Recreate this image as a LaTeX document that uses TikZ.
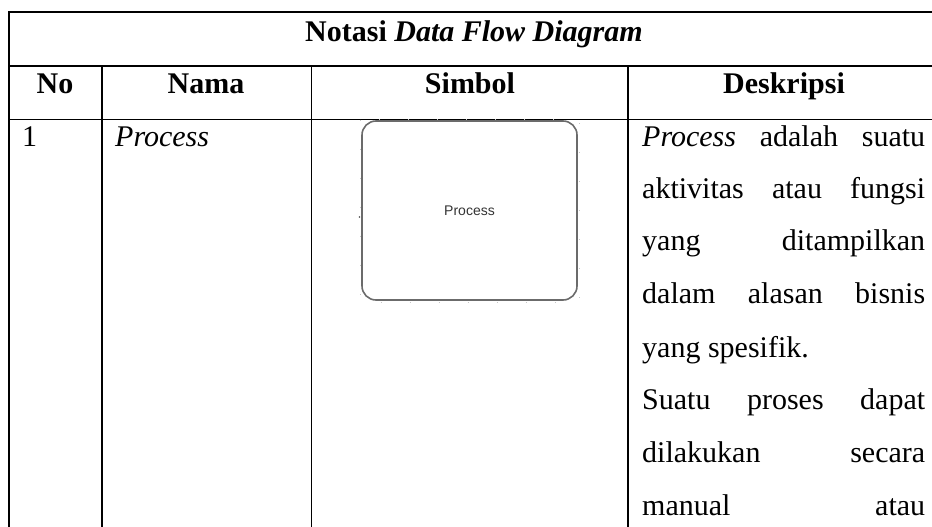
\documentclass[tikz,border=0pt]{standalone}
\usepackage{fontspec}
\setmainfont{Liberation Serif}
\newfontfamily\shapefont{Liberation Sans}
\begin{document}
\begin{tikzpicture}[x=1pt, y=-1pt,
  thickrule/.style={line width=2pt, line cap=rect},
  midrule/.style={line width=1.7pt, line cap=rect},
  thinrule/.style={line width=1pt},
  celltext/.style={inner sep=0pt, font=\fontsize{30}{36}\selectfont},
  headtext/.style={celltext, font=\fontsize{30}{36}\selectfont\bfseries, anchor=base},
  bodyline/.style={celltext, anchor=base west},
  processbox/.style={draw=shapegray, line width=1.6pt, rounded corners=14pt,
    minimum width=215pt, minimum height=179pt, inner sep=0pt,
    font=\shapefont\fontsize{14}{16}\selectfont, text=shapetext},
  handles/.style={draw=black!22, line width=0.6pt, dash pattern=on 1pt off 28pt}
]
\definecolor{shapegray}{HTML}{6B6B6B}
\definecolor{shapetext}{HTML}{333333}

\useasboundingbox (0,0) rectangle (932,527);
\clip (0,0) rectangle (932,527);

% table rules
\draw[thickrule] (8.5,560) -- (8.5,12.5) -- (945,12.5);
\draw[midrule] (8.5,66) -- (945,66);
\draw[thinrule] (8.5,119) -- (945,119);
\draw[thickrule] (102,66) -- (102,560);
\draw[thinrule] (311,66) -- (311,560);
\draw[thickrule] (628,66) -- (628,560);

% title row
\node[headtext] (title) at (474,42) {Notasi \textit{Data Flow Diagram}};

% header row
\node[headtext] (hno) at (55,93) {No};
\node[headtext] (hnama) at (206,93) {Nama};
\node[headtext] (hsimbol) at (470,93) {Simbol};
\node[headtext] (hdesk) at (784,93) {Deskripsi};

% first entry
\node[bodyline] (no1) at (22,146) {1};
\node[bodyline] (nama1) at (115,146) {\textit{Process}};

% symbol
\draw[handles] (360,119.5) rectangle (579,302);
\node[processbox] (proc) at (469.5,210.5) {Process};
\fill[black!70] (359.5,217) circle (0.8pt);

% description, justified lines
\newcommand{\jline}[1]{\makebox[283pt][s]{#1}}
\node[bodyline] (d1) at (642,146) {\jline{\textit{Process} adalah suatu}};
\node[bodyline] (d2) at (642,198) {\jline{aktivitas atau fungsi}};
\node[bodyline] (d3) at (642,250) {\jline{yang ditampilkan}};
\node[bodyline] (d4) at (642,303) {\jline{dalam alasan bisnis}};
\node[bodyline] (d5) at (642,357) {yang spesifik.};
\node[bodyline] (d6) at (642,409) {\jline{Suatu proses dapat}};
\node[bodyline] (d7) at (642,462) {\jline{dilakukan secara}};
\node[bodyline] (d8) at (642,515) {\jline{manual atau}};
\end{tikzpicture}
\end{document}
